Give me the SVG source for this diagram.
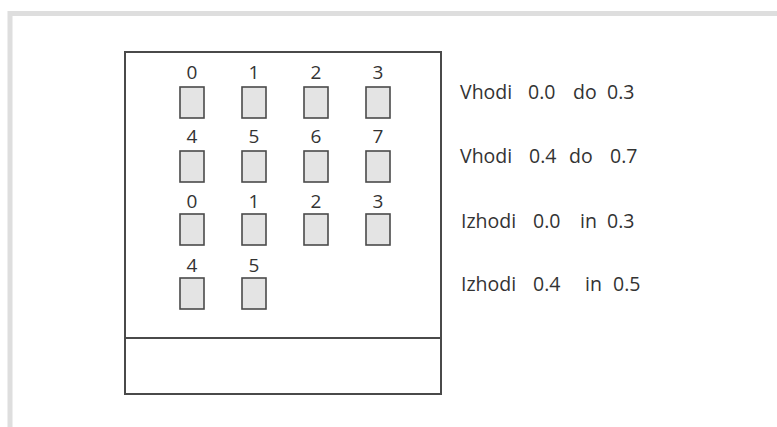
<svg xmlns="http://www.w3.org/2000/svg" width="777" height="427" viewBox="0 0 777 427">
  <style>
    .frame { fill: none; stroke: #dedede; stroke-width: 5; }
    .panel { fill: #ffffff; stroke: #4a4a4a; stroke-width: 2; }
    .sep { stroke: #4a4a4a; stroke-width: 2; }
    .io { fill: #e4e4e4; stroke: #4a4a4a; stroke-width: 1.6; }
    .num { font-family: "Open Sans", "Noto Sans", sans-serif; font-size: 19px; fill: #333333; text-anchor: middle; }
    .lbl { font-family: "Open Sans", "Noto Sans", sans-serif; font-size: 19.5px; fill: #333333; }
  </style>
  <rect width="777" height="427" fill="#ffffff"/>
  <!-- outer window frame -->
  <path class="frame" d="M10 427 V13.5 H777"/>

  <!-- module body -->
  <g id="module">
    <rect class="panel" x="125" y="52" width="316" height="342"/>
    <line class="sep" x1="125" y1="338" x2="441" y2="338"/>
  </g>

  <!-- inputs 0.0 - 0.3 -->
  <g id="in0"><text class="num" x="192" y="79">0</text><rect class="io" x="180" y="87" width="24" height="31"/></g>
  <g id="in1"><text class="num" x="254" y="79">1</text><rect class="io" x="242" y="87" width="24" height="31"/></g>
  <g id="in2"><text class="num" x="316" y="79">2</text><rect class="io" x="304" y="87" width="24" height="31"/></g>
  <g id="in3"><text class="num" x="378" y="79">3</text><rect class="io" x="366" y="87" width="24" height="31"/></g>
  <!-- inputs 0.4 - 0.7 -->
  <g id="in4"><text class="num" x="192" y="143">4</text><rect class="io" x="180" y="151" width="24" height="31"/></g>
  <g id="in5"><text class="num" x="254" y="143">5</text><rect class="io" x="242" y="151" width="24" height="31"/></g>
  <g id="in6"><text class="num" x="316" y="143">6</text><rect class="io" x="304" y="151" width="24" height="31"/></g>
  <g id="in7"><text class="num" x="378" y="143">7</text><rect class="io" x="366" y="151" width="24" height="31"/></g>
  <!-- outputs 0.0 - 0.3 -->
  <g id="out0"><text class="num" x="192" y="208">0</text><rect class="io" x="180" y="214" width="24" height="31"/></g>
  <g id="out1"><text class="num" x="254" y="208">1</text><rect class="io" x="242" y="214" width="24" height="31"/></g>
  <g id="out2"><text class="num" x="316" y="208">2</text><rect class="io" x="304" y="214" width="24" height="31"/></g>
  <g id="out3"><text class="num" x="378" y="208">3</text><rect class="io" x="366" y="214" width="24" height="31"/></g>
  <!-- outputs 0.4 - 0.5 -->
  <g id="out4"><text class="num" x="192" y="272">4</text><rect class="io" x="180" y="278" width="24" height="31"/></g>
  <g id="out5"><text class="num" x="254" y="272">5</text><rect class="io" x="242" y="278" width="24" height="31"/></g>

  <!-- legend -->
  <g id="legend">
    <text class="lbl" y="99"><tspan x="460">Vhodi</tspan><tspan x="528">0.0</tspan><tspan x="573">do</tspan><tspan x="607">0.3</tspan></text>
    <text class="lbl" y="163"><tspan x="460">Vhodi</tspan><tspan x="529">0.4</tspan><tspan x="569">do</tspan><tspan x="610">0.7</tspan></text>
    <text class="lbl" y="228"><tspan x="461">Izhodi</tspan><tspan x="533">0.0</tspan><tspan x="580">in</tspan><tspan x="607">0.3</tspan></text>
    <text class="lbl" y="291"><tspan x="461">Izhodi</tspan><tspan x="533">0.4</tspan><tspan x="585">in</tspan><tspan x="613">0.5</tspan></text>
  </g>
</svg>
